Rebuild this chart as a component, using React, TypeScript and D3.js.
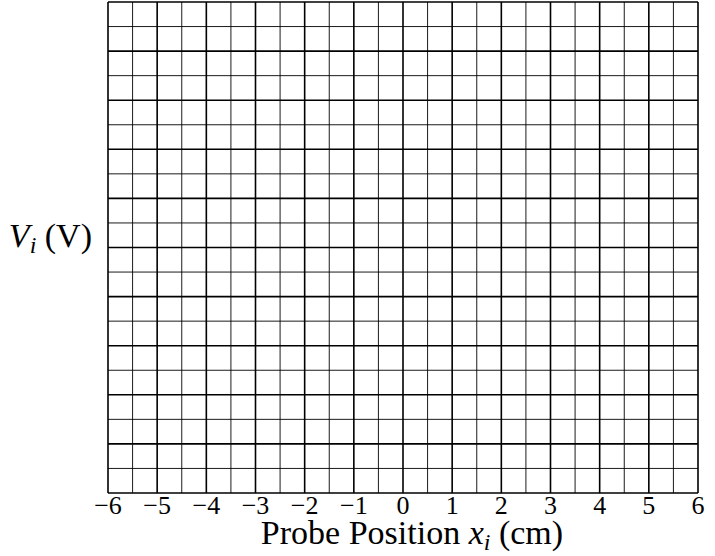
import React from "react";
import * as d3 from "d3";

// Axis extents and tick spacing for the blank measurement grid
const xDomain: [number, number] = [-6, 6];
const yDomain: [number, number] = [0, 10];
const xTickLabels: number[] = [-6, -5, -4, -3, -2, -1, 0, 1, 2, 3, 4, 5, 6];
const minorStep = 0.5;
const xLabelMain = "Probe Position ";
const xLabelVar = "x";
const xLabelUnit = " (cm)";
const yLabelVar = "V";
const yLabelUnit = " (V)";
const subscript = "i";

const W = 715;
const H = 556;
const left = 108;
const right = 698;
const top = 2;
const bottom = 493;

const fmt = (v: number) => (v < 0 ? "\u2212" + Math.abs(v) : String(v));

export default function App() {
  const x = d3.scaleLinear().domain(xDomain).range([left, right]);
  const y = d3.scaleLinear().domain(yDomain).range([bottom, top]);

  const xs = d3.range(xDomain[0], xDomain[1] + minorStep / 2, minorStep);
  const ys = d3.range(yDomain[0], yDomain[1] + minorStep / 2, minorStep);
  const isMajor = (v: number) => Math.abs(v - Math.round(v)) < 1e-9;

  const font = "'Liberation Serif', 'Times New Roman', serif";

  return (
    <svg
      width={W}
      height={H}
      style={{ position: "absolute", left: 0, top: 0, background: "#fff" }}
    >
      <g>
        {xs.map((v) => (
          <line
            key={"vx" + v}
            x1={x(v)}
            x2={x(v)}
            y1={top}
            y2={bottom}
            stroke="#000"
            strokeWidth={isMajor(v) ? 1.6 : 0.9}
          />
        ))}
        {ys.map((v) => (
          <line
            key={"hy" + v}
            x1={left}
            x2={right}
            y1={y(v)}
            y2={y(v)}
            stroke="#000"
            strokeWidth={isMajor(v) ? 1.6 : 0.9}
          />
        ))}
      </g>
      <g fontFamily={font} fontSize={26} fill="#000" textAnchor="middle">
        {xTickLabels.map((v) => (
          <text key={"t" + v} x={x(v)} y={514}>
            {fmt(v)}
          </text>
        ))}
      </g>
      <text
        x={412}
        y={544}
        fontFamily={font}
        fontSize={34}
        textAnchor="middle"
        fill="#000"
      >
        {xLabelMain}
        <tspan fontStyle="italic">{xLabelVar}</tspan>
        <tspan fontStyle="italic" fontSize={24} dy={6}>
          {subscript}
        </tspan>
        <tspan dy={-6}>{xLabelUnit}</tspan>
      </text>
      <text
        x={92}
        y={247}
        fontFamily={font}
        fontSize={34}
        textAnchor="end"
        fill="#000"
      >
        <tspan fontStyle="italic">{yLabelVar}</tspan>
        <tspan fontStyle="italic" fontSize={24} dy={6}>
          {subscript}
        </tspan>
        <tspan dy={-6}>{yLabelUnit}</tspan>
      </text>
    </svg>
  );
}
